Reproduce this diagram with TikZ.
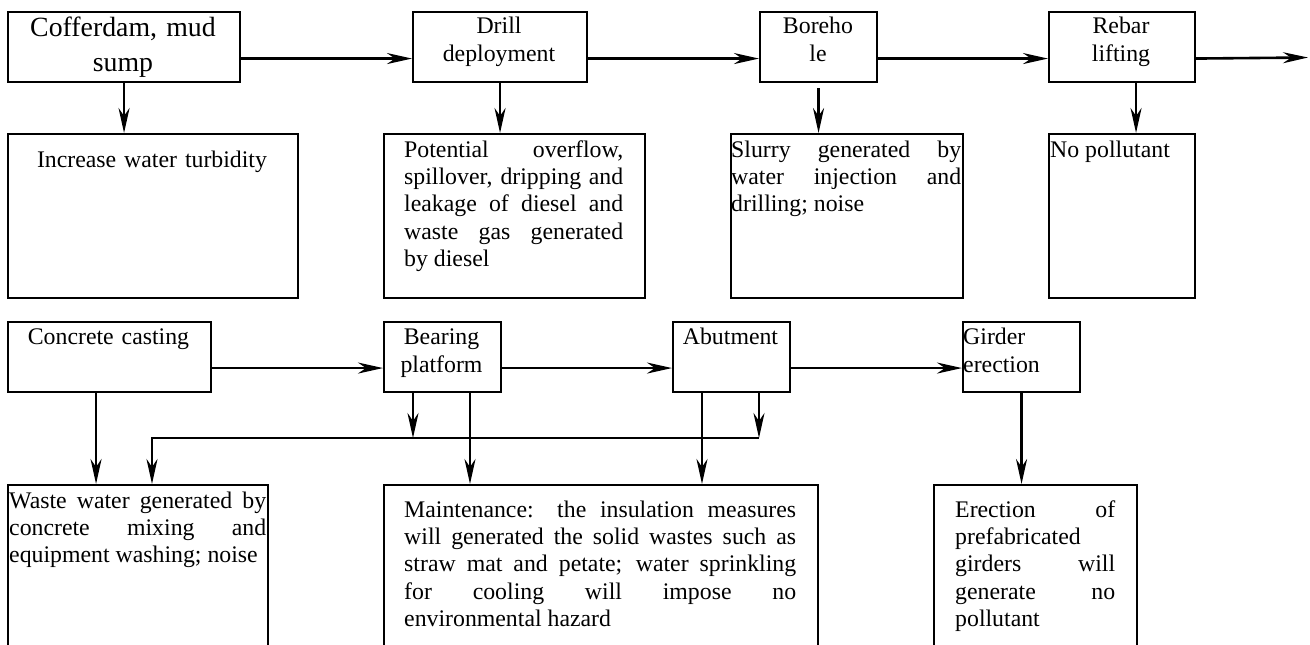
\documentclass[tikz,border=0pt]{standalone}
\usepackage{fontspec}
\setmainfont{Liberation Serif}
\usetikzlibrary{arrows.meta}
\tolerance=10000
\hyphenpenalty=10000
\hbadness=10000
\begin{document}
\begin{tikzpicture}[x=1pt,y=-1pt,
  box/.style={draw, line width=2.1pt, rectangle, inner sep=0pt, anchor=north west},
  arr/.style={line width=2.6pt, -{Stealth[length=25pt,width=11pt,inset=8pt]}},
  txt/.style={inner sep=0pt, font=\fontsize{23.8}{27.4}\selectfont},
  jtxt/.style={txt, align=justify, anchor=base west},
  ctxt/.style={txt, align=center, anchor=base},
  ltxt/.style={txt, align=left, anchor=base west}
]
\useasboundingbox (0,0) rectangle (1310,645);
\clip (0,0) rectangle (1310,645);

% top row process boxes
\node[box, minimum width=232pt, minimum height=70pt] (cof) at (7,11) {};
\node[box, minimum width=174pt, minimum height=70pt] (drill) at (412,11) {};
\node[box, minimum width=117pt, minimum height=70pt] (bore) at (759,11) {};
\node[box, minimum width=146pt, minimum height=70pt] (rebar) at (1048,11) {};
% top row result boxes
\node[box, minimum width=290pt, minimum height=164pt] (r1) at (7,133) {};
\node[box, minimum width=261pt, minimum height=164pt] (r2) at (383,133) {};
\node[box, minimum width=232pt, minimum height=164pt] (r3) at (730,133) {};
\node[box, minimum width=146pt, minimum height=164pt] (r4) at (1048,133) {};
% second row process boxes
\node[box, minimum width=203pt, minimum height=70pt] (conc) at (7,321) {};
\node[box, minimum width=117pt, minimum height=70pt] (bear) at (383,321) {};
\node[box, minimum width=117pt, minimum height=70pt] (abut) at (672,321) {};
\node[box, minimum width=117pt, minimum height=70pt] (gird) at (962,321) {};
% bottom result boxes
\node[box, minimum width=260pt, minimum height=200pt] (w1) at (7,484) {};
\node[box, minimum width=434pt, minimum height=200pt] (w2) at (383,484) {};
\node[box, minimum width=203pt, minimum height=200pt] (w3) at (933,484) {};

% texts
\node[ctxt, text width=228pt, font=\fontsize{27.8}{35}\selectfont] (tcof) at (123,36) {Cofferdam, mud\\sump};
\node[ctxt, text width=170pt, font=\fontsize{23.8}{28}\selectfont] (tdrill) at (499,34) {Drill\\deployment};
\node[ctxt, text width=112pt, font=\fontsize{23.8}{28}\selectfont] (tbore) at (818,34) {Boreho\\le};
\node[ctxt, text width=140pt, font=\fontsize{23.8}{28}\selectfont] (trebar) at (1121,34) {Rebar\\lifting};
\node[ctxt, text width=285pt] (tr1) at (152,167) {Increase water turbidity};
\node[jtxt, text width=219pt] (tr2) at (404,157) {Potential overflow,\linebreak spillover, dripping and\linebreak leakage of diesel and\linebreak waste gas generated\linebreak by diesel};
\node[jtxt, text width=230pt] (tr3) at (731,157) {Slurry generated by\linebreak water injection and\linebreak drilling; noise};
\node[jtxt, text width=140pt] (tr4) at (1050,157) {No pollutant};
\node[ctxt, text width=200pt] (tconc) at (108.5,344) {Concrete casting};
\node[ctxt, text width=112pt, font=\fontsize{23.8}{28}\selectfont] (tbear) at (441.5,344) {Bearing\\platform};
\node[ctxt, text width=112pt] (tabut) at (730.5,344) {Abutment};
\node[ltxt, text width=112pt, font=\fontsize{23.8}{28}\selectfont] (tgird) at (963,344) {Girder\\erection};
\node[jtxt, text width=257pt] (tw1) at (9,508) {Waste water generated by\linebreak concrete mixing and\linebreak equipment washing; noise};
\node[jtxt, text width=392pt] (tw2) at (404,517) {Maintenance: the insulation measures\linebreak will generated the solid wastes such as\linebreak straw mat and petate; water sprinkling\linebreak for cooling will impose no\linebreak environmental hazard};
\node[jtxt, text width=160pt] (tw3) at (955,517) {Erection of\linebreak prefabricated\linebreak girders will\linebreak generate no\linebreak pollutant};

% top row horizontal flow
\coordinate (out) at (1308,57.5);
\draw[arr] ([yshift=-11.5pt]cof.east) -- ([yshift=-11.5pt]drill.west);
\draw[arr] ([yshift=-11.5pt]drill.east) -- ([yshift=-11.5pt]bore.west);
\draw[arr] ([yshift=-11.5pt]bore.east) -- ([yshift=-11.5pt]rebar.west);
\draw[arr] ([yshift=-11.5pt]rebar.east) -- (out);
% top row down arrows
\path ([yshift=-5pt]bore.south) coordinate (bs);
\path ([xshift=14pt]rebar.south) coordinate (rs);
\draw[arr] (cof.south) -- (r1.north -| cof.south);
\draw[arr] (drill.south) -- (r2.north -| drill.south);
\draw[arr] (bs) -- (r3.north -| bs);
\draw[arr] (rs) -- (r4.north -| rs);

% second row horizontal flow
\draw[arr] ([yshift=-11pt]conc.east) -- ([yshift=-11pt]bear.west);
\draw[arr] ([yshift=-11pt]bear.east) -- ([yshift=-11pt]abut.west);
\draw[arr] ([yshift=-11pt]abut.east) -- ([yshift=-11pt]gird.west);

% second row down arrows
\path ([xshift=-13.5pt]conc.south) coordinate (c1);
\path ([xshift=30pt]bear.south west) coordinate (b1);
\path ([xshift=87pt]bear.south west) coordinate (b2);
\path ([xshift=30pt]abut.south west) coordinate (a1);
\path ([xshift=87pt]abut.south west) coordinate (a2);
\coordinate (j2) at (152,438);
\draw[arr] (c1) -- (w1.north -| c1);
\draw[arr] (b1) -- (b1 |- j2);
\draw[arr] (a2) -- (a2 |- j2);
\draw[arr] (a2 |- j2) -- (j2) -- (w1.north -| j2);
\draw[arr] (b2) -- (w2.north -| b2);
\draw[arr] (a1) -- (w2.north -| a1);
\draw[arr] (gird.south) -- (w3.north -| gird.south);
\end{tikzpicture}
\end{document}
